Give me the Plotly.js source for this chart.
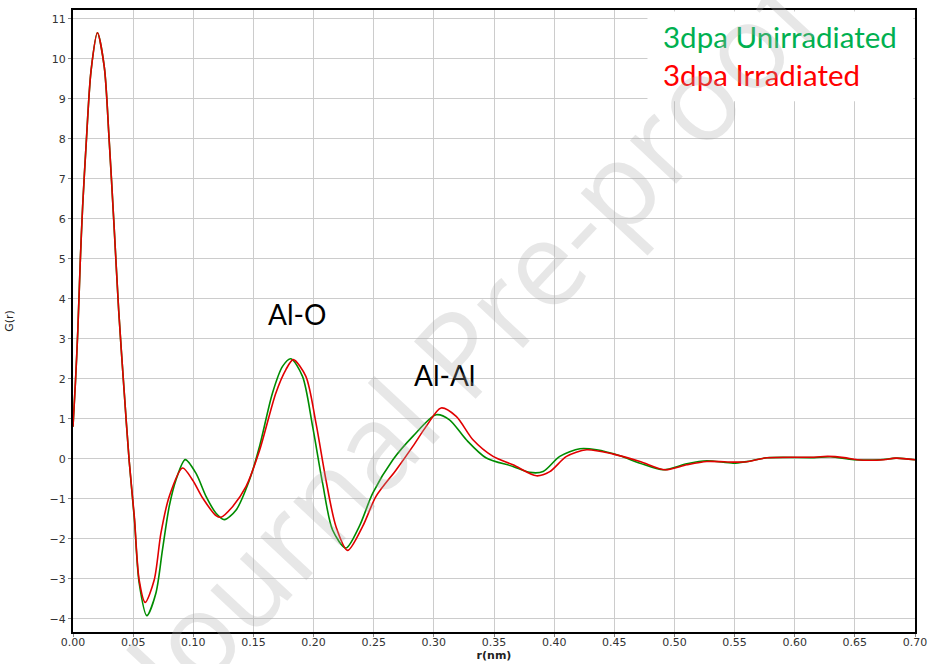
<!DOCTYPE html>
<html>
<head>
<meta charset="utf-8">
<script src="https://cdn.plot.ly/plotly-3.0.1.min.js"></script>
<style>html,body{margin:0;padding:0;background:#fff;}#chart{width:929px;height:664px;}</style>
</head>
<body>
<div id="chart"></div>
<script>
// r (nm) and G(r) for 3dpa Unirradiated (green)
var rUnirr = [0, 0.002, 0.004, 0.006, 0.008, 0.011, 0.015, 0.0203, 0.026, 0.030, 0.034, 0.038, 0.0425, 0.0467, 0.051, 0.055, 0.0614, 0.0689, 0.0744, 0.080, 0.0856, 0.0933, 0.1022, 0.1106, 0.1189, 0.1258, 0.1356, 0.1467, 0.155, 0.1658, 0.1742, 0.1811, 0.1908, 0.1992, 0.2075, 0.2158, 0.2269, 0.238, 0.2492, 0.2658, 0.2825, 0.3019, 0.313, 0.327, 0.3436, 0.3658, 0.3797, 0.3908, 0.4047, 0.4214, 0.4353, 0.4547, 0.4714, 0.4908, 0.5103, 0.527, 0.549, 0.56, 0.577, 0.616, 0.63, 0.649, 0.671, 0.685, 0.70];
var gUnirr = [0.8, 1.9, 3.2, 4.9, 6.3, 7.9, 9.7, 10.65, 9.8, 8.0, 5.9, 3.7, 1.7, -0.05, -1.5, -3.1, -3.92, -3.36, -2.27, -1.19, -0.53, -0.02, -0.36, -0.94, -1.36, -1.52, -1.28, -0.53, 0.3, 1.64, 2.31, 2.5, 2.06, 0.81, -0.61, -1.78, -2.23, -1.69, -0.86, -0.03, 0.56, 1.1, 0.975, 0.475, 0.02, -0.19, -0.34, -0.32, 0.06, 0.25, 0.225, 0.075, -0.11, -0.275, -0.125, -0.05, -0.11, -0.07, 0.025, 0.03, 0.05, -0.025, -0.025, 0.017, -0.025];

// r (nm) and G(r) for 3dpa Irradiated (red)
var rIrr = [0, 0.002, 0.004, 0.006, 0.008, 0.011, 0.015, 0.0203, 0.026, 0.030, 0.034, 0.038, 0.0425, 0.0467, 0.051, 0.055, 0.060, 0.0675, 0.0731, 0.080, 0.0911, 0.0994, 0.1078, 0.1189, 0.1231, 0.1328, 0.1439, 0.155, 0.1686, 0.177, 0.1831, 0.1936, 0.202, 0.2103, 0.2186, 0.2283, 0.2408, 0.2519, 0.2686, 0.2825, 0.2936, 0.306, 0.3186, 0.3325, 0.3492, 0.3658, 0.3853, 0.3964, 0.4103, 0.427, 0.4492, 0.4714, 0.4922, 0.5103, 0.527, 0.549, 0.56, 0.577, 0.616, 0.6275, 0.641, 0.652, 0.674, 0.6836, 0.70];
var gIrr = [0.8, 1.9, 3.2, 4.9, 6.3, 7.9, 9.7, 10.65, 9.8, 8.0, 5.9, 3.7, 1.7, -0.05, -1.45, -3.03, -3.59, -3.03, -1.86, -0.94, -0.23, -0.53, -0.98, -1.42, -1.46, -1.19, -0.69, 0.2, 1.64, 2.23, 2.48, 2.06, 0.89, -0.53, -1.69, -2.29, -1.69, -0.94, -0.28, 0.31, 0.81, 1.27, 1.06, 0.475, 0.06, -0.15, -0.425, -0.32, 0.06, 0.225, 0.117, -0.067, -0.275, -0.15, -0.067, -0.083, -0.075, 0.025, 0.04, 0.06, 0.03, -0.025, -0.025, 0.017, -0.025];

var seriesNames = ["3dpa Unirradiated", "3dpa Irradiated"];
var peakLabels = ["Al-O", "Al-Al"];
var xTitle = "r(nm)";
var yTitle = "G(r)";
var watermark = "Journal Pre-proof";

var green = "rgb(0,140,0)";
var red = "rgb(225,0,0)";

var traces = [
  {x: rUnirr, y: gUnirr, name: seriesNames[0], mode: "lines",
   line: {color: green, width: 1.6, shape: "spline", smoothing: 0.8}},
  {x: rIrr, y: gIrr, name: seriesNames[1], mode: "lines",
   line: {color: red, width: 1.6, shape: "spline", smoothing: 0.8}}
];

var tickFont = {family: "DejaVu Sans, Verdana, sans-serif", size: 11, color: "#333"};
var legendFont = {family: "Lato, Calibri, sans-serif", size: 29.5};
var labelFont = {family: "Lato, Calibri, sans-serif", size: 28};

var layout = {
  width: 929, height: 664,
  margin: {l: 73, r: 14, t: 10, b: 32},
  paper_bgcolor: "#fff", plot_bgcolor: "#fff",
  showlegend: false,
  xaxis: {
    range: [0, 0.70], dtick: 0.05, tick0: 0, tickformat: ".2f",
    showgrid: true, gridcolor: "#cccccc", gridwidth: 1,
    zeroline: false, showline: true, linecolor: "#000", linewidth: 2, mirror: true,
    ticks: "outside", ticklen: 3, tickcolor: "#888", ticklabelstandoff: -4,
    tickfont: tickFont,
    title: {text: xTitle, font: {family: "DejaVu Sans, Verdana, sans-serif", size: 11, color: "#222", weight: "bold"}, standoff: 0}
  },
  yaxis: {
    range: [-4.33, 11.22], dtick: 1, tick0: 0,
    showgrid: true, gridcolor: "#cccccc", gridwidth: 1,
    zeroline: false, showline: true, linecolor: "#000", linewidth: 2, mirror: true,
    ticks: "outside", ticklen: 3, tickcolor: "#888",
    tickfont: tickFont,
    title: {text: yTitle, font: {family: "DejaVu Sans, Verdana, sans-serif", size: 11, color: "#222"}, standoff: 34}
  },
  shapes: [
    {type: "rect", xref: "x", yref: "y", x0: 0.4776, x1: 0.6985, y0: 8.94, y1: 11.18,
     fillcolor: "#fff", line: {width: 0}, layer: "above"}
  ],
  annotations: [
    {x: 0.489, y: 10.57, xref: "x", yref: "y", text: seriesNames[0], showarrow: false,
     xanchor: "left", yanchor: "middle", font: Object.assign({color: "rgb(0,176,80)"}, legendFont)},
    {x: 0.489, y: 9.6, xref: "x", yref: "y", text: seriesNames[1], showarrow: false,
     xanchor: "left", yanchor: "middle", font: Object.assign({color: "rgb(255,0,0)"}, legendFont)},
    {x: 0.186, y: 3.62, xref: "x", yref: "y", text: peakLabels[0], showarrow: false,
     xanchor: "center", yanchor: "middle", font: Object.assign({color: "#000"}, labelFont)},
    {x: 0.3085, y: 2.1, xref: "x", yref: "y", text: peakLabels[1], showarrow: false,
     xanchor: "center", yanchor: "middle", font: Object.assign({color: "#000"}, labelFont)},
    {x: 0.47, y: 0.47, xref: "paper", yref: "paper", text: watermark, showarrow: false,
     textangle: -47, xanchor: "center", yanchor: "middle",
     font: {family: "Open Sans, Arial, sans-serif", size: 118, color: "rgba(170,170,170,0.28)"}}
  ]
};

Plotly.newPlot("chart", traces, layout, {staticPlot: true, displayModeBar: false});
</script>
</body>
</html>
